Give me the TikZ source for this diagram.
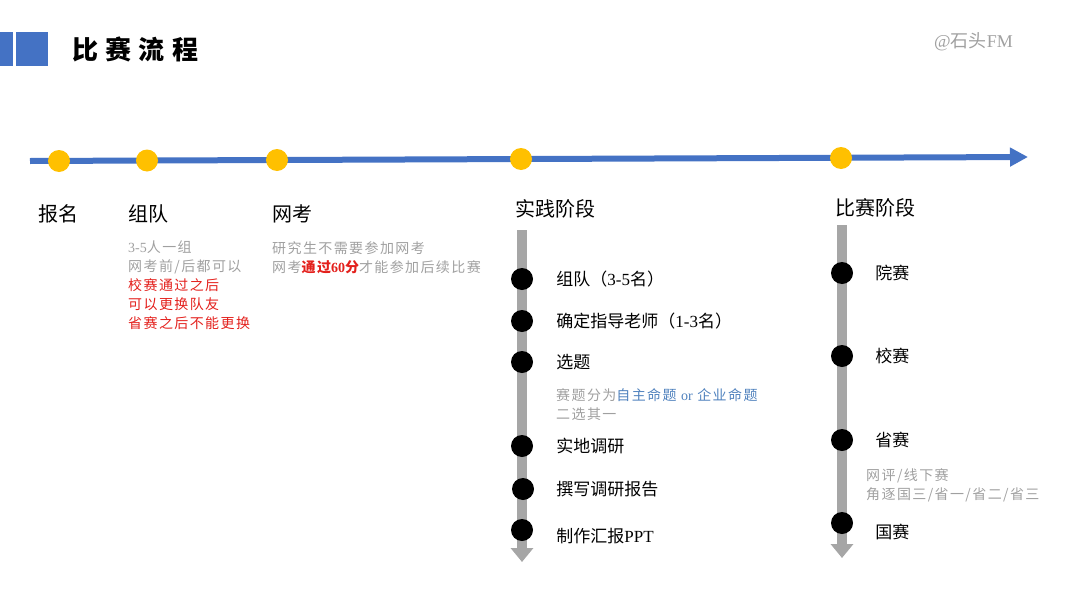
\documentclass[tikz,border=0pt]{standalone}
\usepackage{fontspec}
\setmainfont{Noto Sans CJK SC}
\newfontfamily\titlefont[LetterSpace=28]{Noto Sans CJK SC}
\newfontfamily\notefont[LetterSpace=10]{Noto Sans CJK SC}
\newfontfamily\lat{Liberation Serif}
\usetikzlibrary{positioning,arrows.meta}
\definecolor{lineblue}{HTML}{4472C4}
\definecolor{dotyellow}{HTML}{FFC000}
\definecolor{bargray}{HTML}{A6A6A6}
\definecolor{notegray}{HTML}{A0A0A0}
\definecolor{notered}{HTML}{E3201C}
\definecolor{noteblue}{HTML}{4F81BD}

\begin{document}
\begin{tikzpicture}[x=1pt,y=-1pt,
  ydot/.style={circle,fill=dotyellow,minimum size=22pt,inner sep=0pt},
  bdot/.style={circle,fill=black,minimum size=22pt,inner sep=0pt},
  phase/.style={anchor=west,inner sep=0pt,font=\fontsize{20}{22}\selectfont},
  item/.style={inner sep=0pt,font=\fontsize{17}{19}\selectfont},
  note/.style={anchor=north west,inner sep=0pt,align=left,text=notegray,
    font=\notefont\fontsize{14}{19}\selectfont},
  vbar/.style={line width=10pt,draw=bargray,-{Triangle[length=14pt,width=22pt]}}]
%\draw[help lines] (0,0) grid (1080,608);
\useasboundingbox (0,0) rectangle (1080,608);

% header
\fill[lineblue] (0,32) rectangle (13,66);
\fill[lineblue] (16,32) rectangle (48,66);
\node[anchor=west,inner sep=0pt,font=\titlefont\bfseries\fontsize{26}{28}\selectfont] (title) at (72,49) {比赛流程};
\node[anchor=west,inner sep=0pt,text=notegray,font=\fontsize{18}{20}\selectfont] (mark) at (934,42) {{\lat @}石头{\lat FM}};

% timeline
\coordinate (tstart) at (30,161);
\coordinate (tend) at (1028,157);
\draw[line width=6pt,lineblue,-{Triangle[length=18pt,width=18pt]}] (tstart) -- (tend);

\node[ydot] (baoming) at (59,161) {};
\node[ydot] (zudui) at (147,160.5) {};
\node[ydot] (wangkao) at (277,160) {};
\node[ydot] (shijian) at (521,159) {};
\node[ydot] (bisai) at (841,158) {};

\node[phase] (l-baoming) at (38,214) {报名};
\node[phase] (l-zudui) at (128,214) {组队};
\node[phase] (l-wangkao) at (272,214) {网考};
\node[phase] (l-shijian) at (515,209) {实践阶段};
\node[phase] (l-bisai) at (835,208) {比赛阶段};

\node[note] (n-zudui) at (128,241) {{\lat 3-5}人一组\\网考前/后都可以\\
  \textcolor{notered}{校赛通过之后}\\\textcolor{notered}{可以更换队友}\\
  \textcolor{notered}{省赛之后不能更换}};
\node[note] (n-wangkao) at (272,241) {研究生不需要参加网考\\
  网考\textcolor{notered}{\bfseries 通过{\lat\bfseries 60}分}才能参加后续比赛};

% practice stage
\coordinate (ptop) at (522,230);
\coordinate (pbot) at (522,562);
\draw[vbar] (ptop) -- (pbot);
\node[bdot] (p1) at (522,279) {};
\node[bdot] (p2) at (522,321) {};
\node[bdot] (p3) at (522,362) {};
\node[bdot] (p4) at (522,446) {};
\node[bdot] (p5) at (523,489) {};
\node[bdot] (p6) at (522,530) {};
\node[item,right=23pt of p1] (lp1) {组队（{\lat 3-5}名）};
\node[item,right=23pt of p2] (lp2) {确定指导老师（{\lat 1-3}名）};
\node[item,right=23pt of p3] (lp3) {选题};
\node[item,right=23pt of p4] (lp4) {实地调研};
\node[item,right=22pt of p5] (lp5) {撰写调研报告};
\node[item,right=23pt of p6,yshift=-6pt] (lp6) {制作汇报{\lat PPT}};
\node[note] (n-xuanti) at (556,388) {赛题分为\textcolor{noteblue}{自主命题 {\lat or} 企业命题}\\二选其一};

% competition stage
\coordinate (ctop) at (842,225);
\coordinate (cbot) at (842,558);
\draw[vbar] (ctop) -- (cbot);
\node[bdot] (c1) at (842,273) {};
\node[bdot] (c2) at (842,356) {};
\node[bdot] (c3) at (842,440) {};
\node[bdot] (c4) at (842,523) {};
\node[item,right=22pt of c1] (lc1) {院赛};
\node[item,right=22pt of c2] (lc2) {校赛};
\node[item,right=22pt of c3] (lc3) {省赛};
\node[item,right=22pt of c4,yshift=-9pt] (lc4) {国赛};
\node[note] (n-shengsai) at (866,468) {网评/线下赛\\角逐国三/省一/省二/省三};
\end{tikzpicture}
\end{document}
